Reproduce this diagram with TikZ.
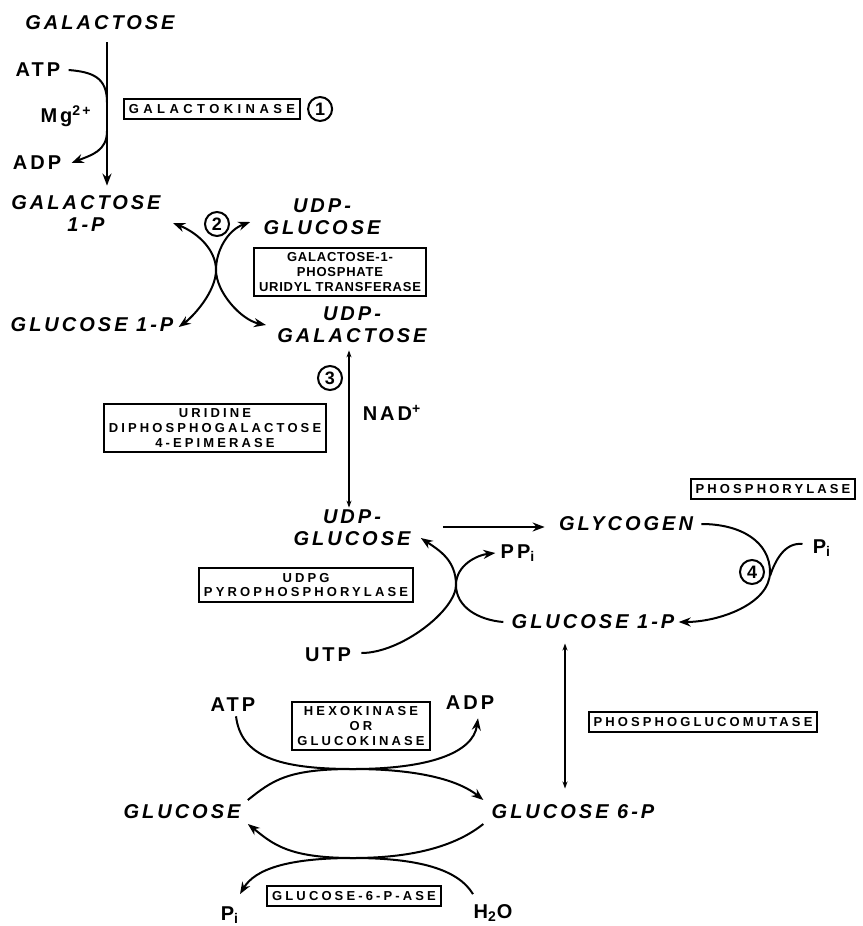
\documentclass[tikz,border=0pt]{standalone}
\usepackage{fontspec}
\setmainfont{Liberation Sans}
\newfontfamily\cpdfont{Liberation Sans}[LetterSpace=15]
\newfontfamily\enzfont{Liberation Sans}[LetterSpace=24]
\newfontfamily\enzwide{Liberation Sans}[LetterSpace=34]
\newfontfamily\enznarrow{Liberation Sans}[LetterSpace=6]
\usetikzlibrary{arrows.meta, positioning, calc}
\tikzset{
	cpd/.style={font=\cpdfont\bfseries\itshape\fontsize{10}{11}\selectfont, align=center, inner sep=1pt},
	cof/.style={font=\cpdfont\bfseries\fontsize{10}{11}\selectfont, inner sep=1pt},
	enz/.style={draw, line width=1pt, font=\enzfont\bfseries\fontsize{6.5}{7.3}\selectfont, align=center, inner sep=2.5pt},
	enzwide/.style={enz, font=\enzwide\bfseries\fontsize{6.5}{7.3}\selectfont},
	enznarrow/.style={enz, font=\enznarrow\bfseries\fontsize{6.5}{7.3}\selectfont},
	stepno/.style={circle, draw, line width=1pt, font=\bfseries\fontsize{9}{9}\selectfont, inner sep=0pt, minimum size=12pt},
	rline/.style={line width=1pt},
	rx/.style={rline, -{Stealth[length=6pt, width=4.5pt]}},
	rxx/.style={rline, {Stealth[length=6pt, width=4.5pt]}-{Stealth[length=6pt, width=4.5pt]}},
	eq/.style={rline, {Stealth[length=3.5pt, width=2.5pt]}-{Stealth[length=3.5pt, width=2.5pt]}},
}
\begin{document}
\begin{tikzpicture}[x=0.5pt, y=-0.5pt]
	\useasboundingbox (0,0) rectangle (862,926);
	% galactokinase
	\node[cpd] (gal) at (100,23) {GALACTOSE};
	\node[cof] (atp1) at (38,70) {ATP};
	\node[cof] (mg) at (66,116) {Mg\textsuperscript{2+}};
	\node[cof] (adp1) at (37,163) {ADP};
	\node[enzwide] (galk) at (212,109) {GALACTOKINASE};
	\node[stepno, right=3pt of galk] (s1) {1};
	\node[cpd] (galp) at (86,214) {GALACTOSE\\1-P};
	\draw[rx] ($(gal.center)+(7,19)$) coordinate (k1a) -- ($(galp.north)+(21,-8)$) coordinate (k1b);
	\draw[rline] ($(atp1.east)+(6,0)$) .. controls +(24,2) and +(0,-25) .. ($(k1a)!0.42!(k1b)$);
	\draw[rx] ($(k1a)!0.62!(k1b)$) .. controls +(0,20) and +(20,-8) .. ($(adp1.east)+(8,0)$);
	% uridyl transferase
	\node[cpd] (udpglc1) at (322,217) {UDP-\\GLUCOSE};
	\node[stepno] (s2) at (217,224) {2};
	\node[enznarrow] (galt) at (340,272) {GALACTOSE-1-\\PHOSPHATE\\URIDYL TRANSFERASE};
	\node[cpd] (glc1p1) at (92,325) {GLUCOSE 1-P};
	\node[cpd] (udpgal) at (352,325) {UDP-\\GALACTOSE};
	\coordinate (k2) at (216,270);
	\draw[rxx] ($(galp.east)+(10,9)$) .. controls +(25,10) and +(0,-20) .. (k2) .. controls +(0,22) and +(14,-10) .. ($(glc1p1.east)+(3,2)$);
	\draw[rxx] ($(udpglc1.west)+(-11,5)$) .. controls +(-22,8) and +(0,-20) .. (k2) .. controls +(0,22) and +(-25,-5) .. ($(udpgal.west)+(-9,0)$);
	% epimerase
	\node[stepno] (s3) at (330,378) {3};
	\node[cof] (nad) at (392,413) {NAD\textsuperscript{+}};
	\node[enz] (epi) at (215,428) {URIDINE\\DIPHOSPHOGALACTOSE\\4-EPIMERASE};
	\node[cpd] (udpglc2) at (352,528) {UDP-\\GLUCOSE};
	\draw[eq] ($(udpgal.south)+(-3,5)$) coordinate (k3a) -- (k3a |- udpglc2.north);
	% glycogen
	\node[cpd] (glyc) at (626,524) {GLYCOGEN};
	\node[enz] (phos) at (773,489) {PHOSPHORYLASE};
	\node[cof] (pi1) at (822,548) {P\textsubscript{i}};
	\node[stepno] (s4) at (752,572) {4};
	\node[cpd] (glc1p2) at (593,622) {GLUCOSE 1-P};
	\draw[rx] ($(udpglc2.east |- glyc.west)+(30,3)$) -- ($(glyc.west)+(-12,3)$);
	\draw[rx] ($(glyc.east)+(6,0)$) .. controls +(40,0) and +(0,-30) .. ($(s4.east)+(5,0)$) .. controls +(0,32) and +(40,0) .. ($(glc1p2.east)+(2,0)$);
	\draw[rline] ($(pi1.west)+(-8,-4)$) .. controls +(-18,-2) and +(5,-15) .. ($(s4.east)+(5,4)$);
	% pyrophosphorylase
	\node[cof] (ppi) at (518,553) {PP\textsubscript{i}};
	\node[enz] (udpgp) at (306,585) {UDPG\\PYROPHOSPHORYLASE};
	\node[cof] (utp) at (328,655) {UTP};
	\coordinate (k5) at (456,585);
	\draw[rx] ($(utp.east)+(8,-2)$) .. controls +(40,0) and +(0,25) .. (k5) .. controls +(0,-25) and +(18,12) .. ($(udpglc2.east)+(8,10)$);
	\draw[rx] ($(glc1p2.west)+(-6,0)$) .. controls +(-25,-2) and +(0,22) .. (k5) .. controls +(0,-20) and +(-18,2) .. ($(ppi.west)+(-3,0)$);
	% mutase
	\node[enz] (pgm) at (703,722) {PHOSPHOGLUCOMUTASE};
	\node[cpd] (glc6p) at (573,812) {GLUCOSE 6-P};
	\draw[eq] ($(glc1p2.south)+(-28,12)$) coordinate (k6a) -- (k6a |- {$(glc6p.north)+(0,-14)$});
	% hexokinase, glucose-6-phosphatase
	\node[cof] (atp2) at (233,705) {ATP};
	\node[cof] (adp2) at (470,703) {ADP};
	\node[enz] (hk) at (361,726) {HEXOKINASE\\OR\\GLUCOKINASE};
	\node[cpd] (glc) at (182,812) {GLUCOSE};
	\node[cof] (pi2) at (230,915) {P\textsubscript{i}};
	\node[cof] (h2o) at (493,913) {H\textsubscript{2}O};
	\node[enz] (g6pase) at (354,896) {GLUCOSE-6-P-ASE};
	\coordinate (k7) at (353,769);
	\coordinate (k8) at (353,858);
	\draw[rx] ($(atp2.south)+(3,2)$) .. controls +(5,40) and +(-75,0) .. (k7) .. controls +(75,0) and +(-5,35) .. ($(adp2.south)+(8,6)$);
	\draw[rx] ($(glc.east)+(5,-12)$) .. controls +(25,-20) and +(-65,0) .. (k7) .. controls +(65,0) and +(-25,-20) .. ($(glc6p.west)+(-6,-12)$);
	\draw[rx] ($(glc6p.west)+(-6,12)$) .. controls +(-25,20) and +(65,0) .. (k8) .. controls +(-65,0) and +(25,20) .. ($(glc.east)+(5,12)$);
	\draw[rx] ($(h2o.north)+(-20,-8)$) .. controls +(-15,-25) and +(65,0) .. (k8) .. controls +(-65,0) and +(15,-25) .. ($(pi2.north)+(10,-10)$);
\end{tikzpicture}
\end{document}
